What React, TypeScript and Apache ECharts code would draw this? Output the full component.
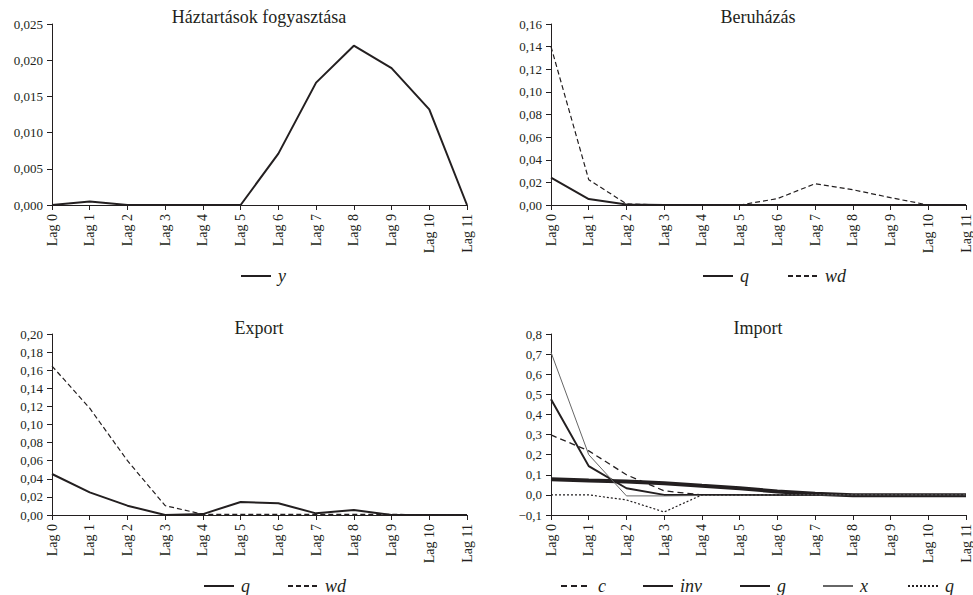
import React, { useEffect, useRef } from "react";
import * as echarts from "echarts";

const lags = ["Lag 0", "Lag 1", "Lag 2", "Lag 3", "Lag 4", "Lag 5", "Lag 6", "Lag 7", "Lag 8", "Lag 9", "Lag 10", "Lag 11"];

const titles = ["Háztartások fogyasztása", "Beruházás", "Export", "Import"];

const hhY = [0, 0.0005, 0, 0, 0, 0, 0.0071, 0.0169, 0.022, 0.0189, 0.0132, 0];

const invQ = [0.0241, 0.0053, 0.0005, 0, 0, 0, 0, 0, 0, 0, 0, 0];
const invWd = [0.14, 0.0224, 0.001, 0, 0, 0, 0.0056, 0.0188, 0.0135, 0.0065, 0, 0];

const expQ = [0.0453, 0.025, 0.0103, 0, 0.001, 0.0144, 0.0129, 0.0018, 0.0055, 0, 0, 0];
const expWd = [0.1646, 0.118, 0.06, 0.0103, 0.0008, 0.0008, 0.0008, 0.0008, 0.0008, 0.0008, 0, 0];

const impC = [0.298, 0.219, 0.1, 0.02, 0, 0, 0, 0, 0, 0, 0, 0];
const impInv = [0.476, 0.143, 0.033, 0, 0, 0, 0, 0, 0, 0, 0, 0];
const impG = [0.078, 0.071, 0.066, 0.058, 0.045, 0.033, 0.017, 0.006, -0.002, -0.002, -0.002, -0.002];
const impX = [0.709, 0.2, -0.005, -0.005, -0.003, -0.002, 0, 0, 0, 0, 0, 0];
const impQ = [0, 0, -0.025, -0.085, 0, 0, 0, 0, 0, 0, 0, 0];

const FONT = "Liberation Serif";
const INK = "#231f20";

type Ser = { name: string; data: number[]; width: number; type: any; color: string; legendX: number };

function fmt(v: number, dec: number) {
  const s = Math.abs(v).toFixed(dec).replace(".", ",");
  return (v < -1e-9 ? "\u2212" : "") + s;
}

function buildOption(
  title: string,
  gridLeft: number,
  gridTop: number,
  yMin: number,
  yMax: number,
  yInt: number,
  dec: number,
  series: Ser[],
  legendTop: number,
  titleTop: number
) {
  return {
    animation: false,
    textStyle: { fontFamily: FONT, color: INK },
    title: {
      text: title,
      left: gridLeft + 207,
      textAlign: "center",
      top: titleTop,
      padding: 0,
      textStyle: { fontFamily: FONT, fontSize: 18, fontWeight: "normal", color: INK },
    },
    legend: series.map((s) => ({
      left: s.legendX,
      top: legendTop,
      padding: 0,
      itemWidth: 30,
      itemHeight: 12,
      itemStyle: { opacity: 0 },
      textStyle: { fontFamily: FONT, fontSize: 18, fontStyle: "italic", color: INK, padding: [0, 0, 0, 2] },
      data: [s.name],
    })),
    grid: { left: gridLeft, top: gridTop, width: 415, height: 181 },
    xAxis: {
      type: "category",
      data: lags,
      boundaryGap: false,
      axisLine: { onZero: false, lineStyle: { color: INK, width: 1 } },
      axisTick: { show: true, length: 5, alignWithLabel: true, lineStyle: { color: INK } },
      axisLabel: { rotate: 90, margin: 9, fontFamily: FONT, fontSize: 14, color: INK, interval: 0 },
      splitLine: { show: false },
    },
    yAxis: {
      type: "value",
      min: yMin,
      max: yMax,
      interval: yInt,
      axisLine: { show: true, lineStyle: { color: INK, width: 1 } },
      axisTick: { show: true, length: 5, lineStyle: { color: INK } },
      axisLabel: { margin: 9, fontFamily: FONT, fontSize: 13, color: INK, formatter: (v: number) => fmt(v, dec) },
      splitLine: { show: false },
    },
    series: series.map((s) => ({
      name: s.name,
      type: "line",
      data: s.data,
      symbol: "none",
      lineStyle: { color: s.color, width: s.width, type: s.type },
      itemStyle: { color: s.color },
    })),
  };
}

export default function App() {
  const r1 = useRef<HTMLDivElement>(null);
  const r2 = useRef<HTMLDivElement>(null);
  const r3 = useRef<HTMLDivElement>(null);
  const r4 = useRef<HTMLDivElement>(null);

  useEffect(() => {
    const charts: echarts.ECharts[] = [];
    const mk = (el: HTMLDivElement | null, opt: any) => {
      if (!el) return;
      const c = echarts.init(el, undefined, { renderer: "svg" });
      c.setOption(opt);
      charts.push(c);
    };
    mk(
      r1.current,
      buildOption(titles[0], 52, 24, 0, 0.025, 0.005, 3,
        [{ name: "y", data: hhY, width: 2, type: "solid", color: INK, legendX: 240 }], 267, 8)
    );
    mk(
      r2.current,
      buildOption(titles[1], 65, 24, 0, 0.16, 0.02, 2,
        [
          { name: "q", data: invQ, width: 2, type: "solid", color: INK, legendX: 216 },
          { name: "wd", data: invWd, width: 1.2, type: [5, 3], color: INK, legendX: 301 },
        ], 267, 8)
    );
    mk(
      r3.current,
      buildOption(titles[2], 52, 37, 0, 0.2, 0.02, 2,
        [
          { name: "q", data: expQ, width: 2, type: "solid", color: INK, legendX: 203 },
          { name: "wd", data: expWd, width: 1.2, type: [5, 3], color: INK, legendX: 287 },
        ], 280, 22)
    );
    mk(
      r4.current,
      buildOption(titles[3], 65, 37, -0.1, 0.8, 0.1, 1,
        [
          { name: "c", data: impC, width: 1.3, type: [6, 4], color: INK, legendX: 74 },
          { name: "inv", data: impInv, width: 2, type: "solid", color: INK, legendX: 156 },
          { name: "g", data: impG, width: 4, type: "solid", color: INK, legendX: 253 },
          { name: "x", data: impX, width: 1, type: "solid", color: "#666", legendX: 336 },
          { name: "q", data: impQ, width: 1.2, type: [2, 2], color: INK, legendX: 421 },
        ], 280, 22)
    );
    return () => charts.forEach((c) => c.dispose());
  }, []);

  const box = (left: number, top: number, h: number): React.CSSProperties => ({
    position: "absolute",
    left,
    top,
    width: 487,
    height: h,
  });

  return (
    <div style={{ position: "absolute", left: 0, top: 0, width: 973, height: 595, background: "#fff", overflow: "hidden" }}>
      <div ref={r1} style={box(0, 0, 297)} />
      <div ref={r2} style={box(486, 0, 297)} />
      <div ref={r3} style={box(0, 297, 298)} />
      <div ref={r4} style={box(486, 297, 298)} />
    </div>
  );
}
